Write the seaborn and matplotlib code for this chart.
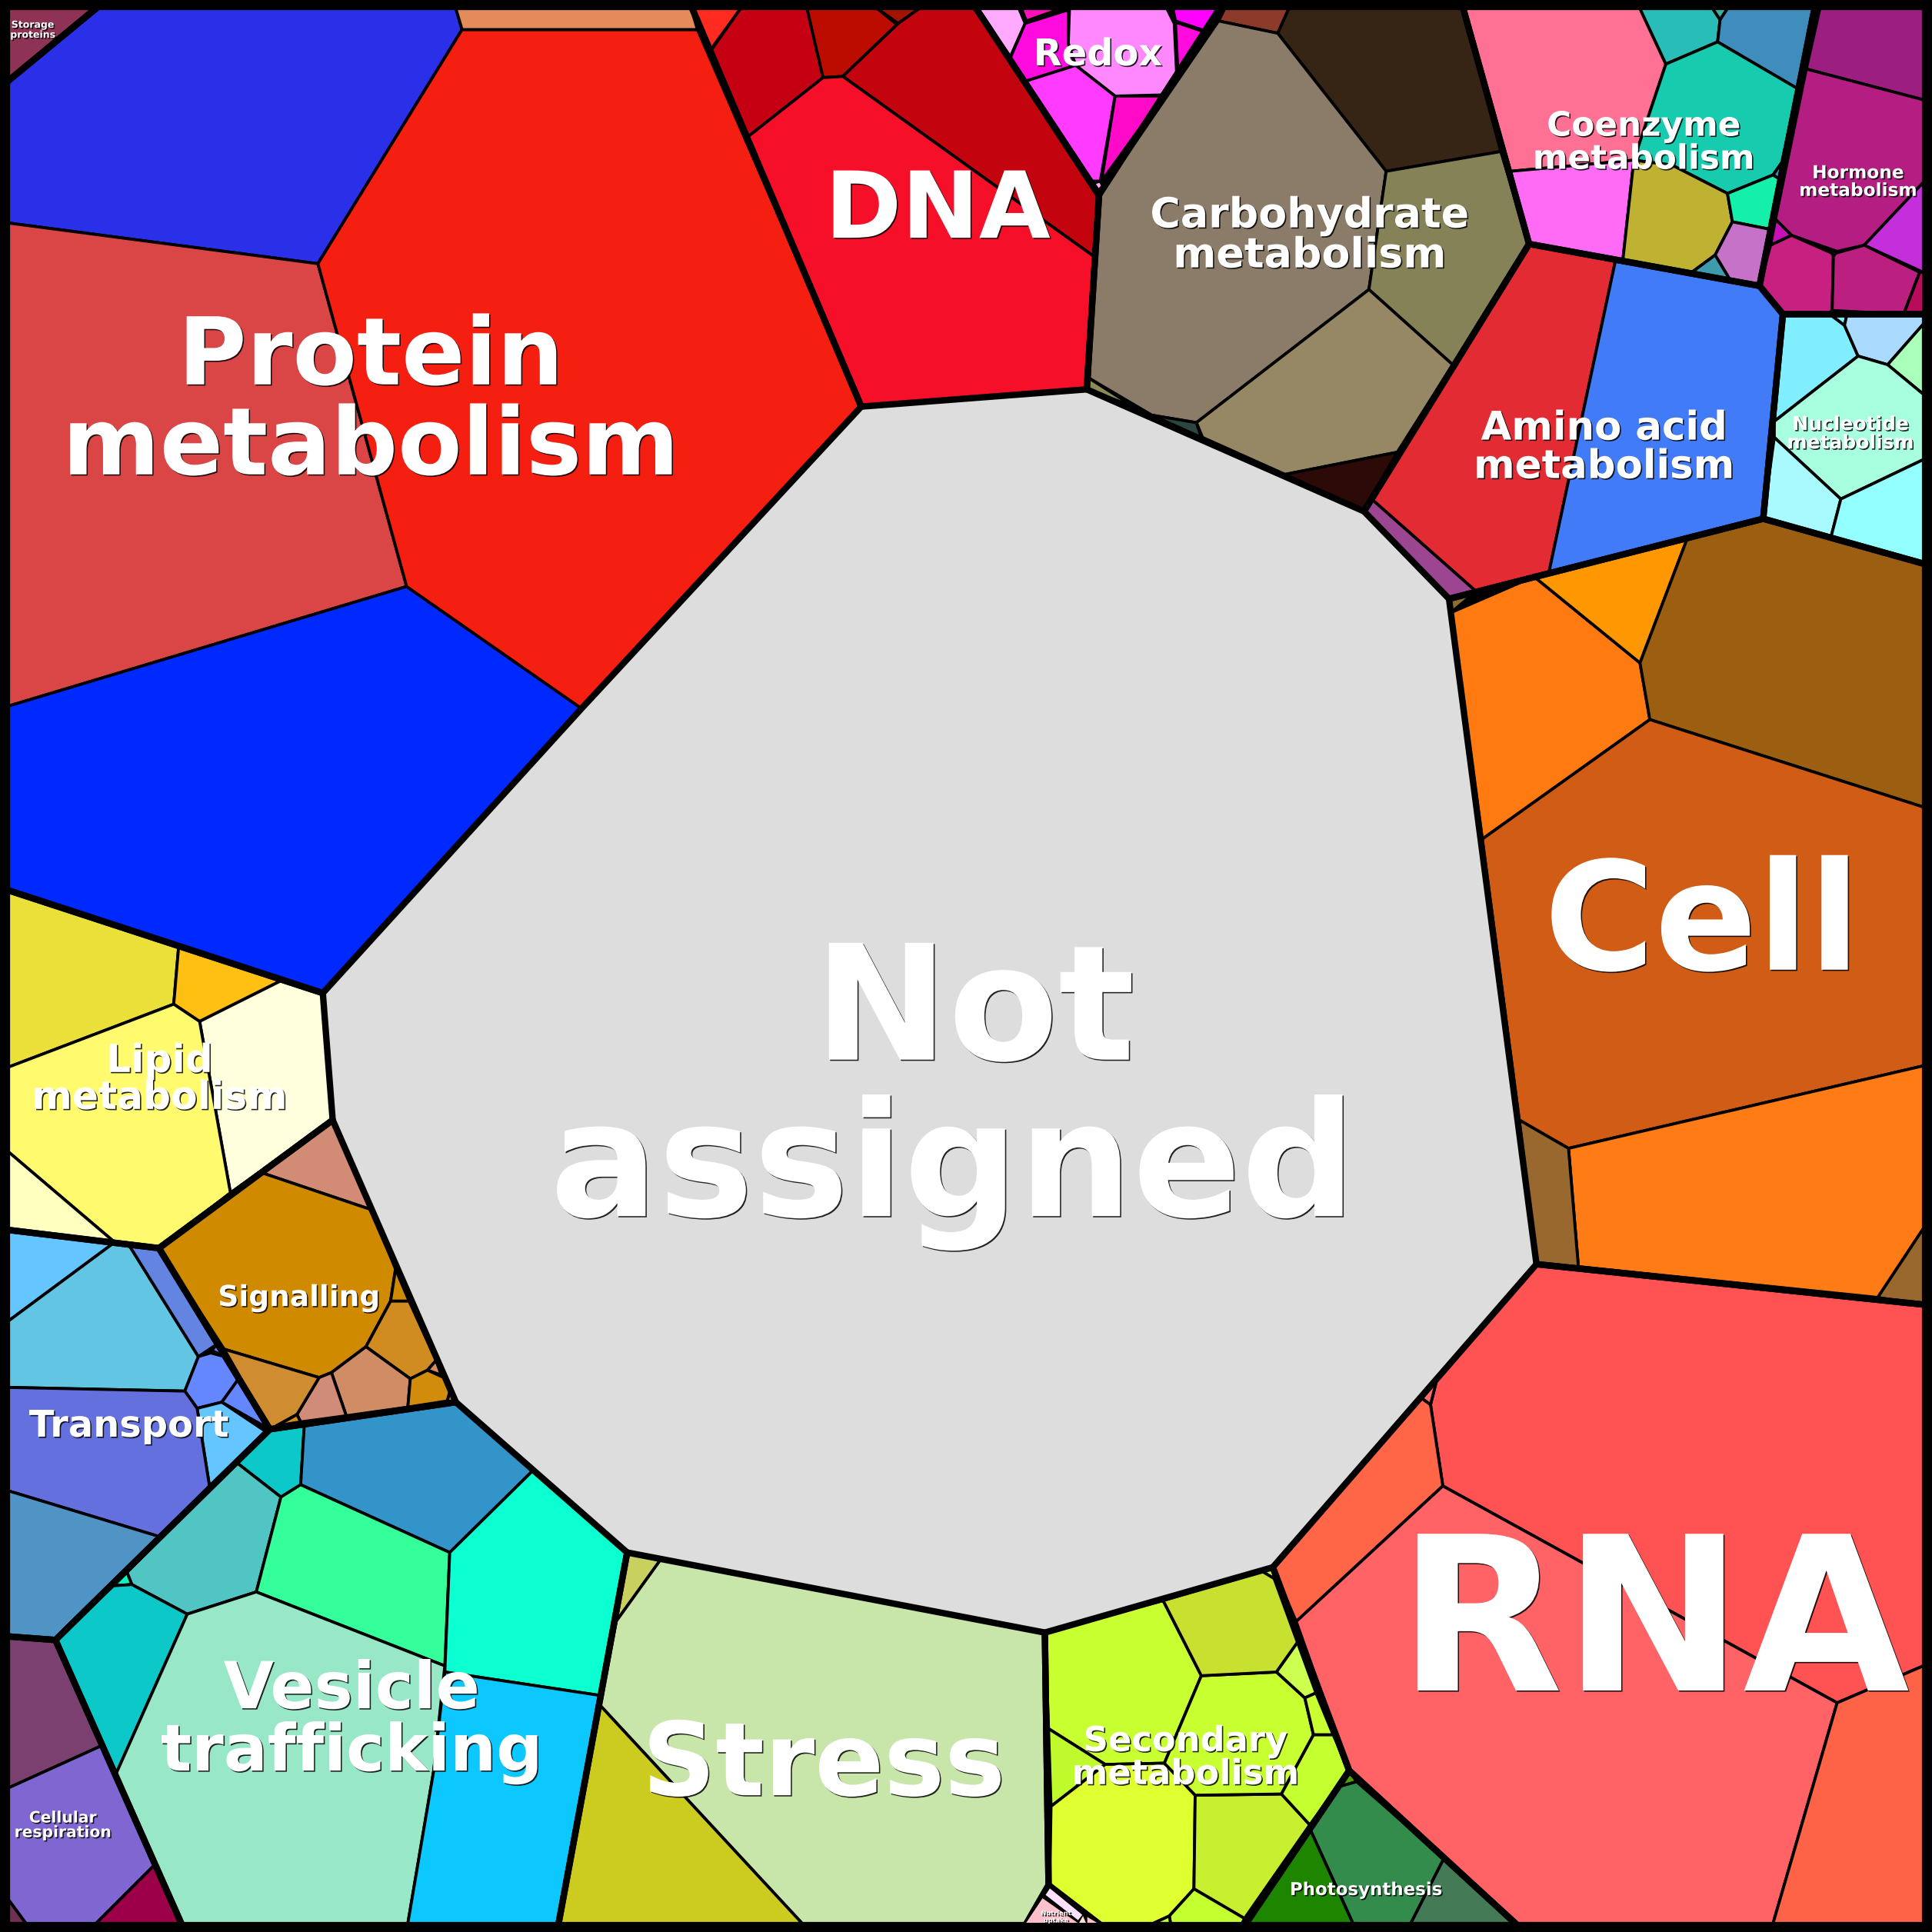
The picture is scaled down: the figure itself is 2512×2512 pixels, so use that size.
import matplotlib.patheffects as pe
import matplotlib.pyplot as plt
import seaborn as sns

# Voronoi treemap, vertices in a 1568 x 1568 frame (y down)
not_assigned_colors = ["#DDDDDD"]
not_assigned_cells = [
    [(882, 316), (1107, 415), (1176, 486), (1247, 1026), (1033, 1272), (848, 1325), (509, 1260),
     (370, 1138), (270, 909), (262, 806), (472, 575), (699, 330)],
]

protein_colors = ["#2A2FE8", "#DA4545", "#0029FF", "#F41F10", "#E58A5A"]
protein_cells = [
    [(80, 7), (370, 7), (375, 24), (258, 214), (7, 181), (7, 67)],
    [(7, 181), (258, 214), (330, 476), (7, 573)],
    [(7, 573), (330, 476), (472, 575), (262, 806), (7, 722)],
    [(375, 24), (566, 24), (699, 330), (472, 575), (330, 476), (258, 214)],
    [(370, 7), (561, 7), (566, 24), (375, 24)],
]

storage_colors = ["#8E3355"]
storage_cells = [[(7, 7), (80, 7), (7, 67)]]

dna_colors = ["#FF2A20", "#C50012", "#BC0C00", "#A31400", "#C3040E", "#F50F28"]
dna_cells = [
    [(563, 7), (601, 7), (577, 40)],
    [(601, 7), (655, 7), (668, 63), (607, 111), (577, 41)],
    [(655, 7), (712, 7), (728, 20), (684, 62), (668, 63)],
    [(712, 7), (746, 7), (729, 19)],
    [(746, 7), (791, 7), (891, 160), (889, 209), (684, 62), (729, 19)],
    [(668, 63), (684, 62), (889, 209), (882, 316), (699, 330), (607, 111)],
]

redox_colors = ["#FFAAFF", "#FF10B8", "#FF0ADF", "#FF88FF", "#FF3BFF", "#FF0AC8", "#FFAAFF", "#FF0ADF", "#FF00FF"]
redox_cells = [
    [(792, 7), (827, 7), (832, 19), (820, 46)],
    [(829, 7), (861, 7), (833, 17)],
    [(832, 19), (867, 8), (867, 35), (873, 53), (832, 66), (820, 47)],
    [(868, 7), (947, 7), (953, 19), (955, 61), (945, 77), (905, 78), (873, 53), (867, 35)],
    [(832, 66), (873, 53), (905, 78), (893, 147), (886, 147)],
    [(905, 78), (944, 78), (894, 147)],
    [(886, 149), (893, 147), (895, 151), (891, 155)],
    [(954, 18), (978, 26), (956, 59)],
    [(952, 7), (990, 7), (978, 25), (954, 17)],
]

carbohydrate_colors = ["#8C3A2A", "#362415", "#8A7C68", "#858258", "#978865", "#2D4540", "#2C0A08", "#8C8A58"]
carbohydrate_cells = [
    [(994, 7), (1046, 7), (1037, 27), (989, 17)],
    [(1046, 7), (1187, 7), (1218, 123), (1125, 139), (1037, 27)],
    [(989, 17), (1037, 27), (1125, 139), (1111, 235), (971, 343), (935, 337), (884, 307), (891, 160)],
    [(1125, 139), (1218, 123), (1241, 198), (1179, 296), (1111, 235)],
    [(1111, 235), (1179, 296), (1134, 367), (1043, 385), (976, 355), (971, 343)],
    [(935, 337), (971, 343), (975, 355)],
    [(1043, 385), (1134, 367), (1107, 415)],
    [(884, 307), (920, 330), (882, 316)],
]

amino_colors = ["#E32B33", "#427BF7", "#9C4590"]
amino_cells = [
    [(1241, 198), (1311, 212), (1257, 465), (1198, 480), (1112, 404)],
    [(1311, 212), (1428, 232), (1447, 255), (1431, 421), (1257, 465)],
    [(1112, 404), (1198, 480), (1176, 486), (1107, 415)],
]

cell_colors = ["#FF7B11", "#FF9800", "#9C5E10", "#D05C15", "#FF7B15", "#99682E", "#99682E", "#8B6E2E"]
cell_cells = [
    [(1178, 497), (1245, 468), (1331, 538), (1339, 584), (1203, 681)],
    [(1245, 468), (1369, 438), (1331, 538)],
    [(1369, 438), (1431, 421), (1561, 458), (1561, 655), (1339, 584), (1331, 538)],
    [(1339, 584), (1561, 655), (1561, 865), (1273, 932), (1233, 909), (1203, 681)],
    [(1273, 932), (1561, 865), (1561, 997), (1524, 1053), (1281, 1028)],
    [(1233, 909), (1273, 932), (1281, 1028), (1247, 1026)],
    [(1561, 997), (1561, 1059), (1524, 1053)],
    [(1176, 486), (1198, 480), (1179, 496)],
]

nucleotide_colors = ["#80EEFF", "#80EEFF", "#AADBFF", "#AAFFBB", "#A8FFE0", "#A8FAFF", "#94FFFF"]
nucleotide_cells = [
    [(1447, 255), (1485, 255), (1497, 264), (1508, 289), (1440, 342)],
    [(1485, 255), (1499, 255), (1497, 264)],
    [(1499, 255), (1561, 255), (1561, 263), (1532, 296), (1508, 289), (1497, 264)],
    [(1561, 263), (1561, 320), (1532, 296)],
    [(1508, 289), (1532, 296), (1561, 320), (1561, 373), (1494, 405), (1440, 355), (1440, 342)],
    [(1440, 355), (1494, 405), (1486, 436), (1431, 421)],
    [(1494, 405), (1561, 373), (1561, 458), (1486, 436)],
]

coenzyme_colors = ["#FF7095", "#FF6BF5", "#29BDB8", "#3BB0A5", "#3F8DBC", "#17CBAF", "#BFB232",
                   "#14F0AA", "#C572C8", "#3D9BAD", "#3F8DBC"]
coenzyme_cells = [
    [(1187, 7), (1331, 7), (1352, 52), (1326, 130), (1226, 139)],
    [(1226, 139), (1326, 130), (1317, 212), (1241, 198)],
    [(1331, 7), (1390, 7), (1396, 16), (1394, 34), (1352, 52)],
    [(1390, 7), (1402, 7), (1396, 16)],
    [(1402, 7), (1473, 7), (1459, 72), (1394, 34), (1396, 16)],
    [(1352, 52), (1394, 34), (1459, 72), (1446, 132), (1439, 142), (1402, 157), (1357, 134), (1326, 130)],
    [(1326, 130), (1357, 134), (1402, 157), (1406, 180), (1392, 207), (1373, 221), (1317, 212)],
    [(1402, 157), (1439, 142), (1444, 145), (1436, 186), (1406, 180)],
    [(1406, 180), (1436, 186), (1428, 232), (1404, 227), (1392, 207)],
    [(1392, 207), (1404, 227), (1373, 221)],
    [(1439, 142), (1446, 132), (1444, 145)],
]

hormone_colors = ["#9C1E80", "#B41E82", "#C52FDB", "#C710B8", "#C82080", "#BB2080", "#B80B5C", "#C710B8"]
hormone_cells = [
    [(1477, 7), (1561, 7), (1561, 81), (1466, 56)],
    [(1466, 56), (1561, 81), (1561, 148), (1513, 199), (1491, 204), (1454, 191), (1441, 178)],
    [(1561, 148), (1561, 221), (1513, 199)],
    [(1441, 178), (1454, 191), (1437, 199)],
    [(1454, 191), (1488, 206), (1487, 252), (1483, 255), (1447, 255), (1428, 232), (1437, 199)],
    [(1488, 206), (1513, 199), (1558, 221), (1545, 255), (1487, 252)],
    [(1558, 221), (1561, 221), (1561, 255), (1545, 255)],
    [(1486, 204), (1491, 204), (1488, 208)],
]

lipid_colors = ["#EBE03A", "#FFC012", "#FFFFDD", "#FFFA6E", "#FFFFC0"]
lipid_cells = [
    [(7, 722), (145, 768), (141, 815), (7, 866)],
    [(145, 768), (228, 796), (162, 829), (141, 815)],
    [(228, 796), (262, 806), (270, 909), (187, 968), (162, 829)],
    [(7, 866), (141, 815), (162, 829), (187, 968), (129, 1013), (94, 1009), (7, 935)],
    [(7, 935), (94, 1009), (7, 998)],
]

signalling_colors = ["#D28B75", "#D08A00", "#D08A00", "#D08C20", "#D08C65", "#D08C78", "#D08C30",
                     "#D08C20", "#D08C0A", "#D08C65", "#D08C20"]
signalling_cells = [
    [(213, 952), (270, 909), (302, 982)],
    [(129, 1013), (213, 952), (302, 982), (321, 1030), (317, 1056), (297, 1093), (269, 1114), (259, 1118), (182, 1095)],
    [(321, 1030), (332, 1056), (317, 1056)],
    [(317, 1056), (332, 1056), (354, 1104), (347, 1112), (333, 1119), (297, 1093)],
    [(269, 1114), (297, 1093), (333, 1119), (331, 1142), (281, 1149)],
    [(259, 1118), (269, 1114), (281, 1149), (244, 1154), (241, 1148)],
    [(182, 1095), (259, 1118), (241, 1148), (219, 1160)],
    [(241, 1148), (244, 1154), (225, 1157)],
    [(333, 1119), (347, 1112), (360, 1118), (365, 1130), (363, 1137), (331, 1142)],
    [(354, 1104), (358, 1116), (347, 1112)],
    [(365, 1130), (370, 1138), (363, 1137)],
]

transport_colors = ["#65C6FF", "#62C5E3", "#6484E2", "#6486FF", "#6486FF", "#65C6FF", "#6470DE", "#4F94C5", "#6486FF"]
transport_cells = [
    [(7, 998), (92, 1009), (7, 1072)],
    [(7, 1072), (92, 1009), (105, 1011), (161, 1101), (150, 1129), (7, 1126)],
    [(105, 1011), (129, 1013), (176, 1091), (161, 1101)],
    [(161, 1101), (171, 1098), (182, 1101), (193, 1120), (180, 1138), (160, 1143), (150, 1129)],
    [(193, 1120), (219, 1160), (180, 1138)],
    [(160, 1143), (180, 1138), (216, 1162), (170, 1206)],
    [(7, 1126), (150, 1129), (160, 1143), (170, 1206), (129, 1247), (7, 1210)],
    [(7, 1210), (129, 1247), (45, 1331), (7, 1328)],
    [(172, 1096), (176, 1091), (182, 1101)],
]

respiration_colors = ["#7C4070", "#8066D0", "#9C0048", "#703055"]
respiration_cells = [
    [(7, 1328), (45, 1331), (82, 1417), (7, 1451)],
    [(7, 1451), (82, 1417), (125, 1514), (78, 1561), (21, 1561), (7, 1542)],
    [(125, 1514), (148, 1561), (78, 1561)],
    [(7, 1542), (21, 1561), (7, 1561)],
]

vesicle_colors = ["#0CC8C8", "#3294C8", "#50C5C3", "#10F0C5", "#34FF9A", "#0BFFD0", "#0CC8C8", "#98E8C8", "#0DC8FF"]
vesicle_cells = [
    [(192, 1187), (219, 1160), (247, 1156), (244, 1205), (228, 1215)],
    [(247, 1156), (370, 1138), (432, 1194), (365, 1260), (244, 1205)],
    [(192, 1187), (228, 1215), (208, 1292), (152, 1310), (107, 1286), (103, 1276)],
    [(103, 1276), (107, 1286), (92, 1287)],
    [(228, 1215), (244, 1205), (365, 1260), (361, 1352), (208, 1292)],
    [(365, 1260), (432, 1194), (509, 1260), (487, 1376), (361, 1357)],
    [(92, 1287), (107, 1286), (152, 1310), (94, 1440), (45, 1331)],
    [(152, 1310), (208, 1292), (361, 1352), (352, 1437), (331, 1561), (148, 1561), (94, 1440)],
    [(361, 1357), (487, 1376), (453, 1561), (331, 1561), (352, 1437)],
]

stress_colors = ["#C8D060", "#C8E6AA", "#CCCC20"]
stress_cells = [
    [(509, 1260), (536, 1266), (500, 1316)],
    [(536, 1266), (848, 1325), (851, 1530), (832, 1561), (651, 1561), (487, 1384), (500, 1316)],
    [(487, 1384), (651, 1561), (453, 1561)],
]

secondary_colors = ["#C8FF30", "#BEFA2C", "#DFFF30", "#C8F030", "#C4FF30", "#C4FF30", "#C8FF30", "#C8E030",
                    "#C8FF30", "#CCFF50", "#C8FF30", "#C4FF30"]
secondary_cells = [
    [(848, 1325), (944, 1299), (975, 1360), (945, 1431), (897, 1432), (851, 1403)],
    [(851, 1403), (897, 1432), (853, 1466)],
    [(853, 1466), (897, 1432), (945, 1431), (970, 1457), (969, 1533), (949, 1555), (936, 1561), (892, 1561), (852, 1530)],
    [(970, 1457), (1040, 1456), (1063, 1481), (1010, 1557), (969, 1533)],
    [(969, 1533), (1010, 1557), (1008, 1561), (950, 1561), (949, 1555)],
    [(949, 1555), (950, 1561), (936, 1561)],
    [(975, 1360), (1036, 1357), (1059, 1378), (1066, 1408), (1040, 1456), (970, 1457), (945, 1431)],
    [(944, 1299), (1024, 1275), (1034, 1281), (1053, 1333), (1036, 1357), (975, 1360)],
    [(1024, 1275), (1033, 1272), (1034, 1281)],
    [(1036, 1357), (1053, 1333), (1068, 1374), (1059, 1378)],
    [(1059, 1378), (1068, 1374), (1082, 1408), (1066, 1408)],
    [(1066, 1408), (1082, 1408), (1095, 1437), (1063, 1481), (1040, 1456)],
]

nutrient_colors = ["#FBE0FF", "#FFC0CC", "#FFE0C8", "#FFC0CC"]
nutrient_cells = [
    [(852, 1532), (879, 1554), (875, 1559), (848, 1538)],
    [(846, 1540), (876, 1561), (832, 1561)],
    [(879, 1554), (882, 1561), (875, 1561)],
    [(882, 1555), (892, 1561), (882, 1561)],
]

photosynthesis_colors = ["#4EA000", "#338C4B", "#1E8500", "#447A55"]
photosynthesis_cells = [
    [(1095, 1437), (1101, 1446), (1087, 1450)],
    [(1087, 1450), (1101, 1446), (1172, 1508), (1145, 1561), (1098, 1561), (1063, 1484)],
    [(1063, 1484), (1098, 1561), (1010, 1561)],
    [(1172, 1508), (1232, 1561), (1145, 1561)],
]

rna_colors = ["#FF5252", "#FF6A6A", "#FF6547", "#FF6366", "#FF6347"]
rna_cells = [
    [(1247, 1026), (1561, 1059), (1561, 1352), (1491, 1382), (1171, 1206), (1161, 1140), (1166, 1120)],
    [(1154, 1135), (1166, 1120), (1161, 1140)],
    [(1033, 1272), (1154, 1135), (1161, 1140), (1171, 1206), (1052, 1316)],
    [(1052, 1316), (1171, 1206), (1491, 1382), (1439, 1561), (1232, 1561), (1095, 1437)],
    [(1491, 1382), (1561, 1352), (1561, 1561), (1439, 1561)],
]

# heavy outline of each functional group, the ones at the border run just under the frame
group_outlines = [
    [(5, 5), (80, 5), (5, 67)],
    [(80, 5), (561, 5), (699, 330), (472, 575), (262, 806), (5, 722), (5, 67)],
    [(561, 5), (791, 5), (892, 158), (882, 316), (699, 330)],
    [(791, 5), (991, 5), (892, 158)],
    [(991, 5), (1187, 5), (1241, 198), (1107, 415), (882, 316), (892, 158)],
    [(1241, 198), (1428, 232), (1447, 255), (1431, 421), (1176, 486), (1107, 415)],
    [(1176, 486), (1431, 421), (1563, 458), (1563, 1059), (1247, 1026)],
    [(1447, 255), (1563, 255), (1563, 458), (1431, 421)],
    [(1187, 5), (1473, 5), (1428, 232), (1241, 198)],
    [(1473, 5), (1563, 5), (1563, 255), (1447, 255), (1428, 232)],
    [(5, 722), (262, 806), (270, 909), (129, 1013), (5, 998)],
    [(129, 1013), (270, 909), (370, 1138), (219, 1160)],
    [(5, 998), (129, 1013), (219, 1160), (45, 1331), (5, 1328)],
    [(5, 1328), (45, 1331), (148, 1563), (5, 1563)],
    [(219, 1160), (370, 1138), (509, 1260), (453, 1563), (148, 1563), (45, 1331)],
    [(509, 1260), (848, 1325), (851, 1530), (832, 1563), (453, 1563)],
    [(848, 1325), (1033, 1272), (1095, 1437), (1010, 1563), (894, 1563), (851, 1530)],
    [(851, 1530), (894, 1563), (832, 1563)],
    [(1095, 1437), (1232, 1563), (1010, 1563)],
    [(1247, 1026), (1563, 1059), (1563, 1563), (1232, 1563), (1095, 1437), (1033, 1272)],
]

label_texts = ["Not", "assigned", "RNA", "Cell", "Protein\nmetabolism", "DNA", "Stress", "Vesicle\ntrafficking",
               "Carbohydrate\nmetabolism", "Amino acid\nmetabolism", "Lipid\nmetabolism", "Secondary\nmetabolism",
               "Coenzyme\nmetabolism", "Redox", "Transport", "Signalling", "Nucleotide\nmetabolism",
               "Hormone\nmetabolism", "Cellular\nrespiration", "Photosynthesis", "Storage\nproteins",
               "Nutrient\nuptake"]
label_x = [791, 773.5, 1342, 1381.5, 301, 761, 668.5, 285.5, 1063, 1302, 129.5, 962, 1334, 891, 104.5, 242.5, 1502, 1508, 51,
           1108.5, 26.5, 857]
label_y = [860, 987, 1372, 787, 385, 193, 1457, 1437, 217, 388, 900, 1448, 137, 53, 1166, 1060, 364, 159, 1491, 1538, 30.6, 1560]
label_pt = [60, 60, 80.5, 56.5, 35, 34.6, 38.2, 24.3, 15.5, 14.8, 14.5, 12.9, 12.6, 13.8, 13.8, 10.8, 7.2, 6.7, 5.85, 6.6, 3.6, 2.4]

all_colors = [not_assigned_colors, protein_colors, storage_colors, dna_colors, redox_colors, carbohydrate_colors,
              amino_colors, cell_colors, nucleotide_colors, coenzyme_colors, hormone_colors, lipid_colors,
              signalling_colors, transport_colors, respiration_colors, vesicle_colors, stress_colors,
              secondary_colors, photosynthesis_colors, rna_colors]
all_cells = [not_assigned_cells, protein_cells, storage_cells, dna_cells, redox_cells, carbohydrate_cells,
             amino_cells, cell_cells, nucleotide_cells, coenzyme_cells, hormone_cells, lipid_cells,
             signalling_cells, transport_cells, respiration_cells, vesicle_cells, stress_cells,
             secondary_cells, photosynthesis_cells, rna_cells]


def draw_cells(ax, cells, colors, line_width=1.1):
    for cell, color in zip(cells, colors):
        xs, ys = zip(*cell)
        ax.fill(xs, ys, facecolor=color, edgecolor="black", linewidth=line_width, joinstyle="round")


sns.set_theme(style="white", font="DejaVu Sans")

fig = plt.figure(figsize=(2512 / 250, 2512 / 250), dpi=250)
ax = fig.add_axes([0, 0, 1, 1])
ax.set_facecolor("black")

for cells, colors in zip(all_cells, all_colors):
    draw_cells(ax, cells, colors)

for outline in group_outlines:
    xs, ys = zip(*outline)
    ax.fill(xs, ys, fill=False, edgecolor="black", linewidth=2.4, joinstyle="round")

# the nutrient cells are tiny, a normal outline would swallow them
draw_cells(ax, nutrient_cells, nutrient_colors, line_width=0.4)

shadow = [pe.withSimplePatchShadow(offset=(0.45, -0.45), shadow_rgbFace="black", alpha=0.85)]
for text, x, y, size in zip(label_texts, label_x, label_y, label_pt):
    ax.text(x, y, text, color="white", fontsize=size, fontweight="bold", ha="center", va="baseline",
            linespacing=1.0, path_effects=shadow, zorder=5)

ax.set_xlim(0, 1568)
ax.set_ylim(1568, 0)
ax.set_xticks([])
ax.set_yticks([])
for spine in ax.spines.values():
    spine.set_color("black")
    spine.set_linewidth(7.2)
sns.despine(ax=ax, top=False, right=False, left=False, bottom=False)

fig.savefig("out.png", dpi=250)
plt.close(fig)
